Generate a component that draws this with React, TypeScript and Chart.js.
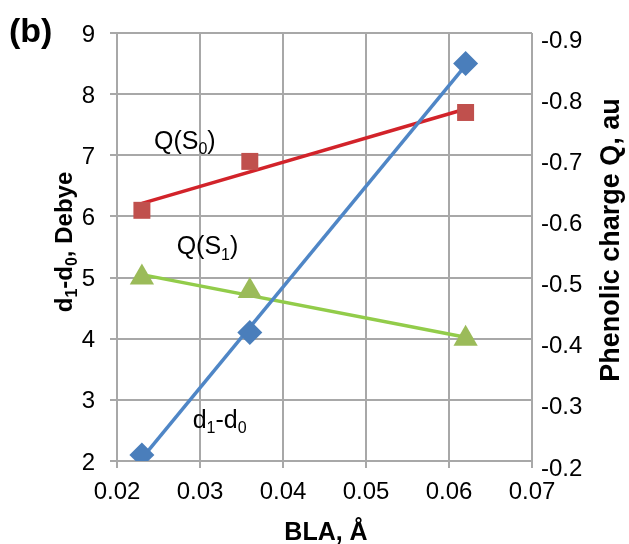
import React, { useEffect, useRef } from 'react';
import { Chart, registerables } from 'chart.js';

Chart.register(...registerables);

// ---- data ----
const blaValues = [0.023, 0.036, 0.062];
const dipoleDiff = [2.1, 4.1, 8.5]; // d1-d0, Debye (left axis)
const chargeS0 = [-0.61, -0.69, -0.77]; // Q(S0), au (right axis)
const chargeS1 = [-0.5, -0.478, -0.4]; // Q(S1), au (right axis)

const xMin = 0.02;
const xMax = 0.07;
const xStep = 0.01;
const leftMin = 2;
const leftMax = 9;
const rightMin = -0.9;
const rightMax = -0.2;
const rightStep = 0.1;

type Part = { t: string; sub?: boolean };
const seriesLabels: { parts: Part[]; x: number; y: number }[] = [
  { parts: [{ t: 'Q(S' }, { t: '0', sub: true }, { t: ')' }], x: 0.02446, y: 7.11 },
  { parts: [{ t: 'Q(S' }, { t: '1', sub: true }, { t: ')' }], x: 0.02719, y: 5.38 },
  { parts: [{ t: 'd' }, { t: '1', sub: true }, { t: '-d' }, { t: '0', sub: true }], x: 0.02912, y: 2.54 },
];
const leftTitle: Part[] = [{ t: 'd' }, { t: '1', sub: true }, { t: '-d' }, { t: '0', sub: true }, { t: ', Debye' }];
const rightTitle: Part[] = [{ t: 'Phenolic charge Q, au' }];
const bottomTitle: Part[] = [{ t: 'BLA, Å' }];
const panelLabel = '(b)';

const FONT = '"Liberation Sans", Arial, sans-serif';

function linearFit(xs: number[], ys: number[]) {
  const n = xs.length;
  const mx = xs.reduce((a, b) => a + b, 0) / n;
  const my = ys.reduce((a, b) => a + b, 0) / n;
  let sxy = 0;
  let sxx = 0;
  for (let i = 0; i < n; i++) {
    sxy += (xs[i] - mx) * (ys[i] - my);
    sxx += (xs[i] - mx) * (xs[i] - mx);
  }
  const b = sxy / sxx;
  const a = my - b * mx;
  const x0 = Math.min(...xs);
  const x1 = Math.max(...xs);
  return [
    { x: x0, y: a + b * x0 },
    { x: x1, y: a + b * x1 },
  ];
}

function drawRich(
  ctx: CanvasRenderingContext2D,
  parts: Part[],
  x: number,
  y: number,
  size: number,
  bold: boolean,
  align: 'left' | 'center'
) {
  const w = bold ? 'bold ' : '';
  const subSize = Math.round(size * 0.65);
  const mainFont = `${w}${size}px ${FONT}`;
  const subFont = `${w}${subSize}px ${FONT}`;
  ctx.textAlign = 'left';
  ctx.textBaseline = 'alphabetic';
  let total = 0;
  for (const p of parts) {
    ctx.font = p.sub ? subFont : mainFont;
    total += ctx.measureText(p.t).width;
  }
  let cx = align === 'center' ? x - total / 2 : x;
  for (const p of parts) {
    ctx.font = p.sub ? subFont : mainFont;
    ctx.fillText(p.t, cx, p.sub ? y + size * 0.22 : y);
    cx += ctx.measureText(p.t).width;
  }
}

const textPlugin = {
  id: 'textPlugin',
  afterDraw(chart: any) {
    const ctx: CanvasRenderingContext2D = chart.ctx;
    const xs = chart.scales.x;
    const ys = chart.scales.y;
    ctx.save();
    ctx.fillStyle = '#000000';
    ctx.font = `bold 34px ${FONT}`;
    ctx.textAlign = 'left';
    ctx.textBaseline = 'alphabetic';
    ctx.fillText(panelLabel, 9, 42);

    for (const l of seriesLabels) {
      drawRich(ctx, l.parts, xs.getPixelForValue(l.x), ys.getPixelForValue(l.y), 25, false, 'left');
    }

    drawRich(ctx, bottomTitle, 326, 540, 25, true, 'center');

    ctx.save();
    ctx.translate(72, 242);
    ctx.rotate(-Math.PI / 2);
    drawRich(ctx, leftTitle, 0, 0, 24, true, 'center');
    ctx.restore();

    ctx.save();
    ctx.translate(619, 240);
    ctx.rotate(-Math.PI / 2);
    drawRich(ctx, rightTitle, 0, 0, 27, true, 'center');
    ctx.restore();

    ctx.restore();
  },
};

export default function App() {
  const ref = useRef<HTMLCanvasElement | null>(null);

  useEffect(() => {
    if (!ref.current) return;
    const gridColor = '#A8A8A8';
    const dPts = blaValues.map((x, i) => ({ x, y: dipoleDiff[i] }));
    const s0Pts = blaValues.map((x, i) => ({ x, y: chargeS0[i] }));
    const s1Pts = blaValues.map((x, i) => ({ x, y: chargeS1[i] }));

    const chart = new Chart(ref.current, {
      type: 'scatter',
      data: {
        datasets: [
          {
            label: 'd1-d0',
            data: dPts,
            yAxisID: 'y',
            pointStyle: 'rectRot',
            pointRadius: 12.5,
            backgroundColor: '#4A7EBB',
            borderWidth: 0,
            showLine: false,
            order: 0,
          },
          {
            label: 'Q(S0)',
            data: s0Pts,
            yAxisID: 'y2',
            pointStyle: 'rect',
            pointRadius: 12,
            backgroundColor: '#C0504D',
            borderWidth: 0,
            showLine: false,
            order: 0,
          },
          {
            label: 'Q(S1)',
            data: s1Pts,
            yAxisID: 'y2',
            pointStyle: 'triangle',
            pointRadius: 14,
            backgroundColor: '#9BBB59',
            borderWidth: 0,
            showLine: false,
            order: 0,
          },
          {
            label: 'trend d1-d0',
            data: linearFit(blaValues, dipoleDiff),
            yAxisID: 'y',
            showLine: true,
            pointRadius: 0,
            borderColor: '#4F86C6',
            borderWidth: 3.5,
            order: 1,
          },
          {
            label: 'trend Q(S0)',
            data: linearFit(blaValues, chargeS0),
            yAxisID: 'y2',
            showLine: true,
            pointRadius: 0,
            borderColor: '#D2232A',
            borderWidth: 3.5,
            order: 1,
          },
          {
            label: 'trend Q(S1)',
            data: linearFit(blaValues, chargeS1),
            yAxisID: 'y2',
            showLine: true,
            pointRadius: 0,
            borderColor: '#92CC4A',
            borderWidth: 3.5,
            order: 1,
          },
        ],
      },
      options: {
        responsive: false,
        animation: false,
        layout: { padding: { top: 33, left: 0, right: 0, bottom: 0 } },
        plugins: { legend: { display: false }, tooltip: { enabled: false } },
        scales: {
          x: {
            type: 'linear',
            position: 'bottom',
            min: xMin,
            max: xMax,
            afterFit: (s: any) => {
              s.height = 83;
            },
            ticks: {
              stepSize: xStep,
              color: '#000',
              font: { family: FONT, size: 24 },
              padding: 10,
              maxRotation: 0,
              callback: (v: any) => Number(v).toFixed(2),
            },
            grid: { color: gridColor, lineWidth: 2, tickLength: 7, drawTicks: true },
            border: { display: true, color: gridColor, width: 2 },
          },
          y: {
            type: 'linear',
            position: 'left',
            min: leftMin,
            max: leftMax,
            afterFit: (s: any) => {
              s.width = 117;
            },
            ticks: {
              stepSize: 1,
              color: '#000',
              font: { family: FONT, size: 24 },
              padding: 15,
              labelOffset: 2,
            },
            grid: { color: gridColor, lineWidth: 2, tickLength: 7, drawTicks: true },
            border: { display: true, color: gridColor, width: 2 },
          },
          y2: {
            type: 'linear',
            position: 'right',
            min: rightMin,
            max: rightMax,
            reverse: true,
            afterFit: (s: any) => {
              s.width = 97;
            },
            ticks: {
              stepSize: rightStep,
              color: '#000',
              font: { family: FONT, size: 24 },
              padding: 9,
              labelOffset: 8,
              callback: (v: any) => Number(v).toFixed(1),
            },
            grid: { display: false, drawTicks: false, tickLength: 0 },
            border: { display: false },
          },
        },
      },
      plugins: [textPlugin],
    } as any);

    return () => chart.destroy();
  }, []);

  return (
    <div style={{ position: 'absolute', left: 0, top: 0, width: 629, height: 544, background: '#fff' }}>
      <canvas ref={ref} width={629} height={544} style={{ display: 'block' }} />
    </div>
  );
}
